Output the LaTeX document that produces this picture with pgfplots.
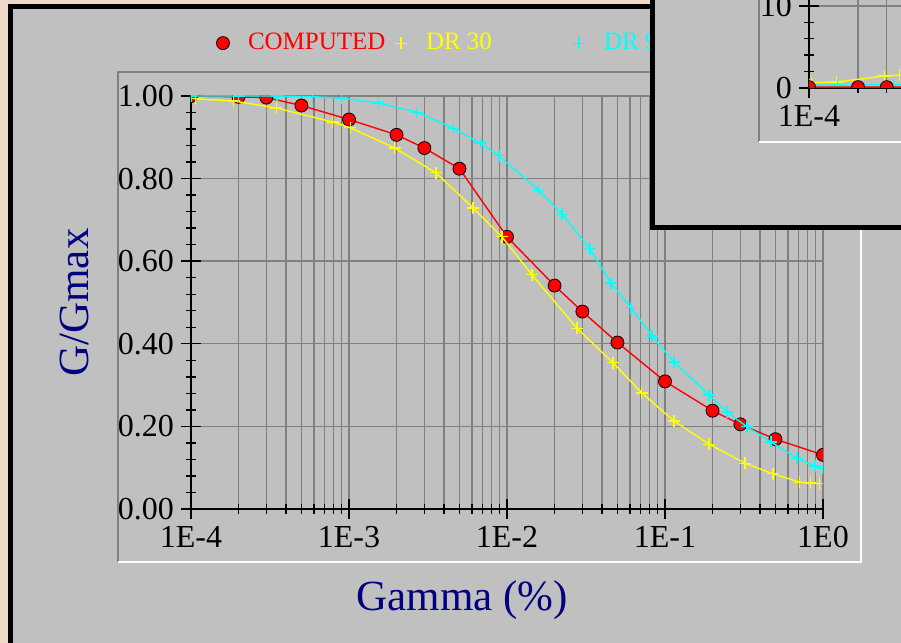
\documentclass[border=0pt]{standalone}
\usepackage{fontspec}
\setmainfont{Liberation Serif}
\usepackage{pgfplots}
\pgfplotsset{compat=1.18}
\definecolor{bgtex}{HTML}{EED8C8}
\definecolor{panel}{HTML}{C0C0C0}
\definecolor{gridg}{HTML}{808080}
\definecolor{navy}{HTML}{000080}
\definecolor{dryellow}{HTML}{FFFF00}
\definecolor{drcyan}{HTML}{00FFFF}
\definecolor{drred}{HTML}{FF0000}
\tikzset{
  redplot/.style={drred, line width=0.7pt, mark=*, mark size=3.25pt, mark options={fill=drred, draw=black, line width=0.4pt}},
  yelplot/.style={dryellow, line width=0.7pt, mark=+, mark size=3pt, mark options={line width=0.6pt}},
  cyaplot/.style={drcyan, line width=0.7pt, mark=+, mark size=3pt, mark options={line width=0.6pt}},
}
\begin{document}
\begin{tikzpicture}[x=0.5pt,y=0.5pt]
\useasboundingbox (0,0) rectangle (901,643);
\clip (0,0) rectangle (901,643);
\fill[bgtex] (0,0) rectangle (901,643);
% main panel
\fill[black] (8,-20) rectangle (920,639);
\fill[panel] (13,-20) rectangle (920,634);
% inner frame
\draw[gridg, line width=0.7pt] (118,81) -- (118,571) -- (861,571);
\draw[white, line width=0.7pt] (118,81) -- (861,81) -- (861,571);
\begin{axis}[
  scale only axis, xmode=log, axis lines*=left,
  axis line style={black, line width=1.4pt},
  tick align=center, major tick length=10pt, minor tick length=5pt,
  tick style={black, line width=0.7pt},
  grid style={gridg, line width=0.7pt},
  xmajorgrids, xminorgrids, ymajorgrids,
  /pgf/number format/assume math mode=true,
  tick label style={font=\fontsize{16}{18}\selectfont, black},
  clip marker paths=true,
  at={(95.5pt,67pt)}, anchor=south west,
  width=316pt, height=206.5pt,
  xmin=1e-4, xmax=1, ymin=0, ymax=1,
  xtick={1e-4,1e-3,1e-2,1e-1,1},
  xticklabels={1E-4,1E-3,1E-2,1E-1,1E0},
  minor xtick={2e-4,3e-4,4e-4,5e-4,6e-4,7e-4,8e-4,9e-4,
               2e-3,3e-3,4e-3,5e-3,6e-3,7e-3,8e-3,9e-3,
               2e-2,3e-2,4e-2,5e-2,6e-2,7e-2,8e-2,9e-2,
               0.2,0.3,0.4,0.5,0.6,0.7,0.8,0.9},
  ytick={0,0.2,0.4,0.6,0.8,1},
  minor y tick num=4,
  yticklabel style={/pgf/number format/fixed, /pgf/number format/fixed zerofill, /pgf/number format/precision=2},
  xlabel={Gamma (\%)},
  xlabel style={font=\fontsize{21.5}{24}\selectfont, text=navy, at={(axis description cs:0.429,-0.22)}, anchor=center},
  ylabel={G/Gmax},
  ylabel style={font=\fontsize{21.5}{24}\selectfont, text=navy, at={(axis description cs:-0.185,0.5)}, anchor=center},
  legend style={at={(axis description cs:0.0396,1.128)}, anchor=west, draw=none, fill=none,
    inner sep=0pt, outer sep=0pt, legend columns=-1, font=\fontsize{12.5}{14}\selectfont,
    nodes={inner sep=0pt}},
  legend cell align=left,
  legend image code/.code={\draw[#1, only marks] plot coordinates {(0pt,0pt)}; \path[draw=none, fill=none] (-3.5pt,-3pt) rectangle (12.5pt,3pt);},
]
\addplot[redplot] coordinates {
(1e-4,1.0)(2e-4,0.998)(3e-4,0.996)(5e-4,0.977)(1e-3,0.943)(2e-3,0.906)(3e-3,0.874)(5e-3,0.824)
(1e-2,0.659)(2e-2,0.541)(3e-2,0.478)(5e-2,0.403)(1e-1,0.309)(2e-1,0.238)(3e-1,0.205)(5e-1,0.169)(1,0.131)};
\addlegendentry{\makebox[73pt][l]{\textcolor{drred}{COMPUTED}}}
\addplot[yelplot] coordinates {
(1.07e-4,0.993)(1.86e-4,0.988)(3.47e-4,0.971)(7.9e-4,0.937)(1.02e-3,0.923)(1.95e-3,0.874)
(3.55e-3,0.814)(6.1e-3,0.729)(9.3e-3,0.659)(1.44e-2,0.567)(2.77e-2,0.438)(4.69e-2,0.354)
(7.14e-2,0.281)(0.114,0.213)(0.19,0.157)(0.321,0.111)(0.483,0.085)(0.714,0.065)(0.832,0.063)(0.955,0.061)};
\addlegendentry{\makebox[73pt][l]{\textcolor{dryellow}{DR 30}}}
\addplot[cyaplot] coordinates {
(1e-4,1.0)(2e-4,1.0)(3.5e-4,1.0)(5.9e-4,0.998)(9.0e-4,0.995)(1.53e-3,0.983)(2.69e-3,0.961)
(4.57e-3,0.922)(6.76e-3,0.886)(8.9e-3,0.855)(1.58e-2,0.772)(2.23e-2,0.714)(3.35e-2,0.630)
(4.55e-2,0.547)(6.1e-2,0.487)(8.28e-2,0.419)(0.114,0.356)(0.19,0.276)(0.247,0.235)
(0.33,0.199)(0.469,0.162)(0.684,0.123)(0.889,0.104)(1.0,0.099)};
\addlegendentry{\makebox[73pt][l]{\textcolor{drcyan}{DR 90}}}
\end{axis}
% inset window
\fill[black] (650,413) rectangle (920,663);
\fill[panel] (655,418) rectangle (920,663);
\draw[gridg, line width=0.7pt] (759,501) -- (759,663);
\draw[white, line width=0.7pt] (759,501) -- (920,501);
\begin{axis}[
  scale only axis, axis lines*=left,
  axis line style={black, line width=1.4pt},
  tick align=center, major tick length=10pt, minor tick length=5pt,
  tick style={black, line width=0.7pt},
  grid style={gridg, line width=0.7pt},
  xmajorgrids, xminorgrids, ymajorgrids,
  /pgf/number format/assume math mode=true,
  tick label style={font=\fontsize{16}{18}\selectfont, black},
  clip marker paths=true,
  at={(404.5pt,277.5pt)}, anchor=south west,
  width=81.5pt, height=82pt,
  xmin=-4, xmax=-3, ymin=0, ymax=20,
  xtick={-4,-3}, xticklabels={1E-4,1E-3},
  minor xtick={-3.699,-3.523,-3.398,-3.301,-3.222,-3.155,-3.097,-3.046},
  ytick={0,10,20}, yticklabels={0,10,20},
  minor y tick num=4,
]
\addplot[yelplot] coordinates {(-3.983,0.65)(-3.83,0.73)(-3.538,1.46)(-3.444,1.55)(-3.301,1.8)(-3,2.4)};
\addplot[cyaplot] coordinates {(-4,0.35)(-3.824,0.36)(-3.482,0.38)(-3.222,0.4)(-3,0.45)};
\addplot[redplot] coordinates {(-4,0.1)(-3.699,0.1)(-3.523,0.1)(-3.301,0.12)(-3,0.15)};
\end{axis}
\end{tikzpicture}
\end{document}
